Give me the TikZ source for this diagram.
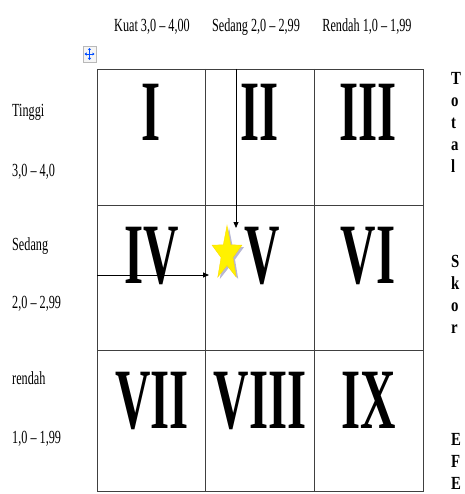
\documentclass[tikz,border=0pt]{standalone}
\usepackage{fontspec}
\setmainfont{Liberation Serif}
\newfontfamily\lblfont{Liberation Serif}[FakeStretch=0.66]
\newfontfamily\sidefont{Liberation Serif}[FakeStretch=0.8]
\newfontfamily\romfont{Liberation Serif}[FakeStretch=0.57]
\usetikzlibrary{arrows.meta,shapes.geometric}

\begin{document}
\begin{tikzpicture}[x=1pt, y=-1pt,
  grid/.style={draw=black!75, line width=0.9pt},
  rom/.style={font=\romfont\bfseries\fontsize{86}{86}\selectfont, inner sep=0pt, anchor=base},
  lbl/.style={font=\lblfont\fontsize{18.5}{18.5}\selectfont, inner sep=0pt, anchor=base},
  side/.style={font=\sidefont\bfseries\fontsize{18.5}{22}\selectfont, inner sep=0pt, align=left, anchor=north west},
  arr/.style={-{Triangle[length=6pt,width=5pt]}, line width=0.8pt}]
\useasboundingbox (0,0) rectangle (464,494);

% table
\draw[grid] (97,69) rectangle (423,491);
\draw[grid] (205,69) -- (205,491);
\draw[grid] (314,69) -- (314,491);
\draw[grid] (97,205) -- (423,205);
\draw[grid] (97,350) -- (423,350);

% move handle
\node[draw=gray!55, fill=gray!8, minimum width=13pt, minimum height=16pt, inner sep=0pt] (mv) at (89.5,54) {};
\draw[blue!70!cyan, {Triangle[length=2pt,width=3pt]}-{Triangle[length=2pt,width=3pt]}, line width=0.6pt]
  ([yshift=-6pt]mv.center) -- ([yshift=6pt]mv.center);
\draw[blue!70!cyan, {Triangle[length=2pt,width=3pt]}-{Triangle[length=2pt,width=3pt]}, line width=0.6pt]
  ([xshift=-5pt]mv.center) -- ([xshift=5pt]mv.center);

% column heads
\node[lbl] (kuat) at (152,32) {Kuat 3,0 – 4,00};
\node[lbl] (sedangc) at (256,32) {Sedang 2,0 – 2,99};
\node[lbl] (rendahc) at (367,32) {Rendah 1,0 – 1,99};

% row heads
\node[lbl, anchor=base west] (tinggi) at (12,117) {Tinggi};
\node[lbl, anchor=base west] (tinggiv) at (12,176) {3,0 – 4,0};
\node[lbl, anchor=base west] (sedangr) at (12,250) {Sedang};
\node[lbl, anchor=base west] (sedangv) at (12,308) {2,0 – 2,99};
\node[lbl, anchor=base west] (rendahr) at (12,384) {rendah};
\node[lbl, anchor=base west] (rendahv) at (12,443) {1,0 – 1,99};

% cells
\node[rom] (c1) at (151,141) {I};
\node[rom] (c2) at (260,141) {II};
\node[rom] (c3) at (368,141) {III};
\node[rom] (c4) at (152,283) {IV};
\node[rom] (c5) at (262,283) {V};
\node[rom] (c6) at (368,283) {VI};
\node[rom] (c7) at (152,428) {VII};
\node[rom] (c8) at (260,428) {VIII};
\node[rom] (c9) at (369,428) {IX};

% total skor efe
\node[side] (total) at (451,72) {T\\o\\t\\a\\l};
\node[side] (skor) at (451,255) {S\\k\\o\\r};
\node[side] (efe) at (451,433) {E\\F\\E};

% position
\node[star, star points=5, star point ratio=2.5, fill=blue!25!gray!45, minimum size=57pt, inner sep=0pt,
  xscale=0.55, transform shape] (starsh) at (229,256) {};
\node[star, star points=5, star point ratio=2.5, fill=yellow, draw=yellow!80!orange, line width=0.4pt,
  minimum size=57pt, inner sep=0pt, xscale=0.55, transform shape] (star) at (227,254) {};

\coordinate (vtop) at (236,69);
\coordinate (vtip) at (236,228);
\coordinate (hleft) at (97,275);
\coordinate (htip) at (209,275);
\draw[arr] (vtop) -- (vtip);
\draw[arr] (hleft) -- (htip);
\end{tikzpicture}
\end{document}
